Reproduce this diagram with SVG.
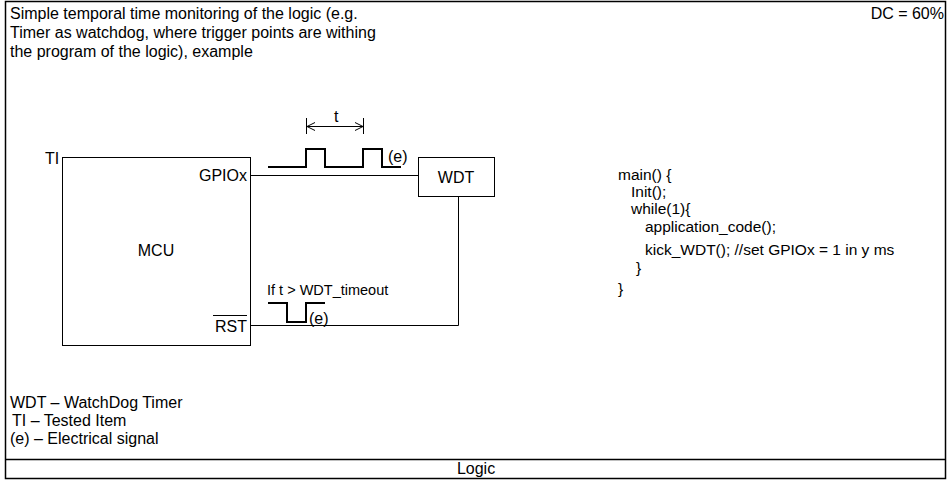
<svg xmlns="http://www.w3.org/2000/svg" width="949" height="480" viewBox="0 0 949 480">
<defs>
<style>
text{font-family:"Liberation Sans",Arial,sans-serif;font-size:16px;fill:#000}
.code{font-size:15.5px}
.ln{stroke:#000;stroke-width:1;fill:none}
.sig{stroke:#000;stroke-width:2;fill:none}
.box{stroke:#000;stroke-width:1;fill:#fff}
</style>
<marker id="ah" markerWidth="10" markerHeight="10" refX="9" refY="5" orient="auto-start-reverse" markerUnits="userSpaceOnUse">
<path d="M1,1 L9,5 L1,9" fill="none" stroke="#000" stroke-width="1"/>
</marker>
</defs>
<rect x="5.5" y="1.5" width="940" height="477" fill="#fff" stroke="#000" stroke-width="1.5"/>
<line x1="5" y1="459.5" x2="946" y2="459.5" stroke="#000" stroke-width="1.5"/>
<text x="476" y="474" text-anchor="middle">Logic</text>
<text x="10" y="19">Simple temporal time monitoring of the logic (e.g.</text>
<text x="10" y="38">Timer as watchdog, where trigger points are withing</text>
<text x="10" y="57">the program of the logic), example</text>
<text x="944" y="19" text-anchor="end">DC = 60%</text>
<g id="connectors">
<line class="ln" x1="250" y1="175.5" x2="418" y2="175.5"/>
<polyline class="ln" points="458.5,196 458.5,325.5 250,325.5"/>
<polyline class="sig" points="268,167 306,167 306,149 325,149 325,167 363,167 363,149 382,149 382,167 401,167"/>
<line class="ln" x1="306.5" y1="118" x2="306.5" y2="134"/>
<line class="ln" x1="363.5" y1="118" x2="363.5" y2="134"/>
<line class="ln" x1="307" y1="126.5" x2="363" y2="126.5" marker-start="url(#ah)" marker-end="url(#ah)"/>
<text x="334" y="122">t</text>
<text x="388" y="162">(e)</text>
<polyline class="sig" points="268,303 287,303 287,322 306,322 306,303 325,303"/>
<text x="309" y="324">(e)</text>
<text x="267" y="295" style="font-size:14.5px">If t &gt; WDT_timeout</text>
</g>
<g id="mcu">
<rect class="box" x="62.5" y="157.5" width="188" height="188"/>
<text x="45" y="164">TI</text>
<text x="156" y="256" text-anchor="middle">MCU</text>
<text x="247" y="181" text-anchor="end">GPIOx</text>
<text x="247" y="332" text-anchor="end">RST</text>
<line class="ln" x1="213" y1="315.5" x2="247" y2="315.5"/>
</g>
<g id="wdt">
<rect class="box" x="418.5" y="157.5" width="76" height="39"/>
<text x="456" y="183" text-anchor="middle">WDT</text>
</g>
<g id="code" class="code">
<text class="code" x="618" y="180">main() {</text>
<text class="code" x="631" y="197">Init();</text>
<text class="code" x="631" y="214">while(1){</text>
<text class="code" x="645" y="232">application_code();</text>
<text class="code" x="645" y="255">kick_WDT(); //set GPIOx = 1 in y ms</text>
<text class="code" x="636" y="273">}</text>
<text class="code" x="618" y="294">}</text>
</g>
<g id="legend">
<text x="10" y="408">WDT – WatchDog Timer</text>
<text x="12" y="426">TI – Tested Item</text>
<text x="10" y="444">(e) – Electrical signal</text>
</g>
</svg>
